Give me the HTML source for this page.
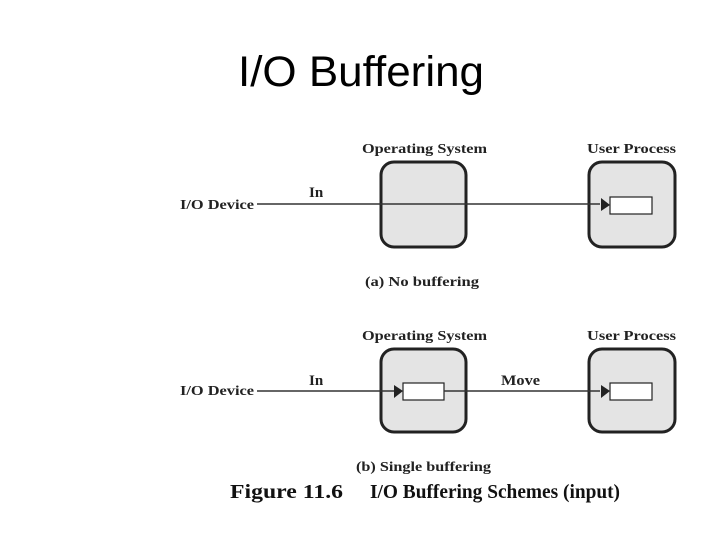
<!DOCTYPE html>
<html><head><style>
body{margin:0;background:#fff;width:720px;height:540px;overflow:hidden}
</style></head><body>
<svg width="720" height="540" xmlns="http://www.w3.org/2000/svg">
<text x="238" y="86" textLength="246" lengthAdjust="spacingAndGlyphs" font-family="Liberation Sans, sans-serif" font-size="43" fill="#000">I/O Buffering</text>
<g font-family="Liberation Serif, serif" font-weight="bold" fill="#222">
<!-- panel a -->
<text x="362" y="153" textLength="125" lengthAdjust="spacingAndGlyphs" font-size="14">Operating System</text>
<text x="587" y="153" textLength="89" lengthAdjust="spacingAndGlyphs" font-size="14">User Process</text>
<rect x="381" y="162" width="85" height="85" rx="13" fill="#e4e4e4" stroke="#222" stroke-width="3"/>
<rect x="589" y="162" width="86" height="85" rx="13" fill="#e4e4e4" stroke="#222" stroke-width="3"/>
<line x1="257" y1="204" x2="600" y2="204" stroke="#333" stroke-width="1.5"/>
<polygon points="601,198 610,205 601,211" fill="#222"/>
<rect x="610" y="197" width="42" height="17" fill="#fff" stroke="#222" stroke-width="1.2"/>
<text x="180" y="209" textLength="74" lengthAdjust="spacingAndGlyphs" font-size="14">I/O Device</text>
<text x="309" y="197" font-size="15">In</text>
<text x="365" y="286" textLength="114" lengthAdjust="spacingAndGlyphs" font-size="14">(a) No buffering</text>
<!-- panel b -->
<text x="362" y="340" textLength="125" lengthAdjust="spacingAndGlyphs" font-size="14">Operating System</text>
<text x="587" y="340" textLength="89" lengthAdjust="spacingAndGlyphs" font-size="14">User Process</text>
<rect x="381" y="349" width="85" height="83" rx="13" fill="#e4e4e4" stroke="#222" stroke-width="3"/>
<rect x="589" y="349" width="86" height="83" rx="13" fill="#e4e4e4" stroke="#222" stroke-width="3"/>
<line x1="257" y1="391" x2="394" y2="391" stroke="#333" stroke-width="1.5"/>
<polygon points="394,385 403,391 394,398" fill="#222"/>
<rect x="403" y="383" width="41" height="17" fill="#fff" stroke="#222" stroke-width="1.2"/>
<line x1="444" y1="391" x2="600" y2="391" stroke="#333" stroke-width="1.5"/>
<polygon points="601,385 610,391 601,398" fill="#222"/>
<rect x="610" y="383" width="42" height="17" fill="#fff" stroke="#222" stroke-width="1.2"/>
<text x="180" y="395" textLength="74" lengthAdjust="spacingAndGlyphs" font-size="14">I/O Device</text>
<text x="309" y="385" font-size="15">In</text>
<text x="501" y="385" textLength="39" lengthAdjust="spacingAndGlyphs" font-size="15">Move</text>
<text x="356" y="471" textLength="135" lengthAdjust="spacingAndGlyphs" font-size="14">(b) Single buffering</text>
<text x="230" y="498" textLength="113" lengthAdjust="spacingAndGlyphs" font-size="20" fill="#111">Figure 11.6</text>
<text x="370" y="498" textLength="250" lengthAdjust="spacingAndGlyphs" font-size="20" fill="#111">I/O Buffering Schemes (input)</text>
</g>
</svg>
</body></html>
